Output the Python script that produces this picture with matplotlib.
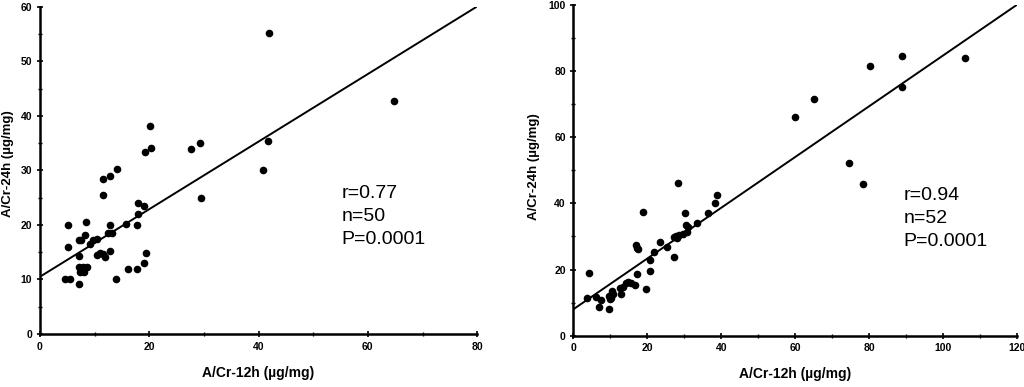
import numpy as np
import matplotlib.pyplot as plt
from matplotlib.ticker import MultipleLocator

plt.rcParams['font.family'] = ['Liberation Sans', 'DejaVu Sans']

# left panel data (A/Cr-12h vs A/Cr-24h)
x_left = [4.6, 5.5, 5.2, 5.1, 7.1, 7.1, 7.8, 7.3, 8.0, 8.6, 7.1, 7.6, 7.1, 8.2,
          8.5, 9.2, 9.8, 10.4, 10.4, 11.0, 11.6, 11.9, 12.8, 12.5, 13.1, 12.8,
          14.0, 15.75, 16.2, 17.7, 17.7, 17.9, 18.0, 19.0, 19.0, 19.4, 29.4,
          11.6, 20.1, 19.3, 20.3, 14.1, 12.9, 11.6, 27.7, 29.2, 42.0, 64.8,
          41.8, 40.8]
y_left = [10.0, 10.0, 20.0, 16.0, 9.2, 12.2, 12.2, 11.4, 11.4, 12.2, 17.2, 17.2,
          14.3, 18.2, 20.6, 16.6, 17.2, 17.5, 14.5, 14.9, 14.7, 14.2, 20.0, 18.5,
          18.5, 15.3, 10.0, 20.2, 11.9, 12.0, 20.0, 22.1, 24.1, 23.5, 13.1, 14.8,
          24.9, 25.5, 38.2, 33.3, 34.2, 30.2, 29.0, 28.4, 33.9, 35.1, 55.3, 42.7,
          35.4, 30.0]
fit_left = (10.5, 0.62)   # intercept, slope

# right panel data
x_right = [3.6, 4.3, 6.1, 7.0, 7.5, 9.5, 9.5, 10.0, 10.5, 10.3, 10.8, 12.6, 13.5,
           12.9, 14.2, 14.8, 15.7, 16.6, 17.2, 16.9, 17.1, 17.6, 18.9, 19.7, 20.6,
           20.8, 21.8, 23.3, 25.3, 27.1, 27.1, 28.4, 27.8, 28.0, 28.7, 29.6, 30.8,
           30.2, 30.4, 31.0, 33.4, 36.5, 38.3, 38.8, 60.0, 65.1, 80.3, 89.0, 88.9,
           105.9, 74.6, 78.3]
y_right = [11.5, 18.9, 11.8, 8.6, 10.8, 8.0, 12.0, 11.0, 13.5, 11.5, 12.5, 14.3,
           14.6, 12.6, 15.8, 16.3, 15.8, 15.3, 18.7, 27.4, 26.6, 26.1, 37.3, 14.2,
           19.7, 22.9, 25.4, 28.4, 26.9, 29.8, 23.7, 46.1, 30.0, 29.5, 30.3, 30.6,
           31.5, 37.0, 33.5, 32.8, 34.0, 37.0, 40.0, 42.5, 66.0, 71.5, 81.6, 84.6,
           75.1, 83.9, 52.1, 45.8]
fit_right = (8.0, 0.767)

fig = plt.figure(figsize=(10.24, 3.87), dpi=100)
ax1 = fig.add_axes([0.039, 0.137, 0.427, 0.845])
ax2 = fig.add_axes([0.560, 0.1326, 0.433, 0.8545])

panels = [
    (ax1, x_left, y_left, fit_left, 80, 60, 20, 10, 10, 5,
     ['r=0.77', 'n=50', 'P=0.0001'], 0.69, 0.36, -0.06, 0.52),
    (ax2, x_right, y_right, fit_right, 120, 100, 20, 10, 20, 10,
     ['r=0.94', 'n=52', 'P=0.0001'], 0.745, 0.355, -0.075, 0.51),
]

for ax, xs, ys, fit, xmax, ymax, xmaj, xmin, ymaj, ymin, txt, tx, ty, lx, ly in panels:
    ax.scatter(xs, ys, s=20, color='black', zorder=3)
    xx = np.array([0, xmax])
    ax.plot(xx, fit[0] + fit[1] * xx, color='black', lw=1.4)
    ax.set_xlim(0, xmax)
    ax.set_ylim(0, ymax)
    ax.xaxis.set_major_locator(MultipleLocator(xmaj))
    ax.xaxis.set_minor_locator(MultipleLocator(xmin))
    ax.yaxis.set_major_locator(MultipleLocator(ymaj))
    ax.yaxis.set_minor_locator(MultipleLocator(ymin))
    for s in ['top', 'right']:
        ax.spines[s].set_visible(False)
    for s in ['left', 'bottom']:
        ax.spines[s].set_linewidth(1.8)
    ax.tick_params(which='major', direction='inout', length=5, width=1.2,
                   labelsize=7.5, pad=3)
    ax.tick_params(which='minor', direction='inout', length=3, width=1)
    for lab in ax.get_xticklabels() + ax.get_yticklabels():
        lab.set_fontweight('bold')
    ax.set_xlabel('A/Cr-12h (µg/mg)', fontsize=10, fontweight='bold', labelpad=10)
    ax.set_ylabel('A/Cr-24h (µg/mg)', fontsize=9.5, fontweight='bold')
    ax.yaxis.set_label_coords(lx, ly)
    ax.text(tx, ty, '\n'.join(txt), transform=ax.transAxes, fontsize=14,
            va='center', ha='left', linespacing=1.45)

fig.savefig('out.png', dpi=100)
